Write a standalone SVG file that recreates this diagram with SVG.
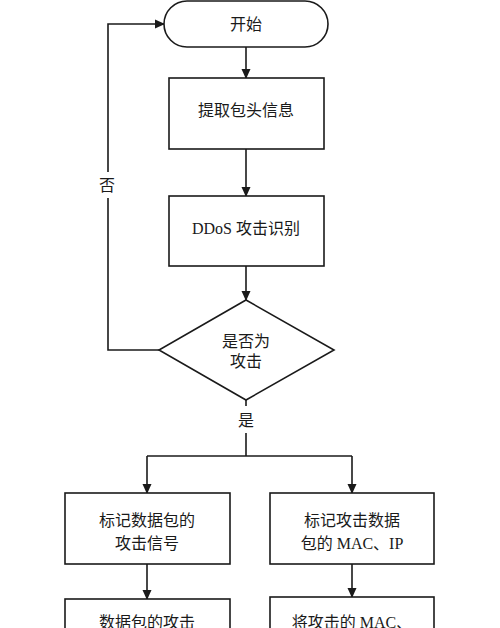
<svg xmlns="http://www.w3.org/2000/svg" width="500" height="628" viewBox="0 0 500 628">
<defs>
<marker id="ah" markerWidth="10" markerHeight="10" refX="9" refY="5" orient="auto" markerUnits="userSpaceOnUse">
<path d="M0,0.5 L10,5 L0,9.5 z" fill="#1a1a1a"/>
</marker>
<style>
.n{fill:#fff;stroke:#1a1a1a;stroke-width:1.6}
.c{fill:none;stroke:#1a1a1a;stroke-width:1.6}
.t{font-family:"Liberation Serif","Noto Sans CJK SC",serif;font-size:16px;fill:#1a1a1a;text-anchor:middle;dominant-baseline:central}
</style>
</defs>
<rect width="500" height="628" fill="#fff"/>
<g id="connectors">
<line class="c" x1="246" y1="47" x2="246" y2="78" marker-end="url(#ah)"/>
<line class="c" x1="246" y1="149" x2="246" y2="196" marker-end="url(#ah)"/>
<line class="c" x1="246" y1="266" x2="246" y2="300" marker-end="url(#ah)"/>
<polyline class="c" points="159,350 108,350 108,198"/>
<polyline class="c" points="108,172 108,24 164,24" marker-end="url(#ah)"/>
<text class="t" x="107" y="185">否</text>
<line class="c" x1="246" y1="400" x2="246" y2="406"/>
<text class="t" x="246" y="420">是</text>
<line class="c" x1="246" y1="433" x2="246" y2="456"/>
<line class="c" x1="147" y1="456" x2="352" y2="456"/>
<line class="c" x1="147" y1="456" x2="147" y2="493" marker-end="url(#ah)"/>
<line class="c" x1="352" y1="456" x2="352" y2="493" marker-end="url(#ah)"/>
<line class="c" x1="147" y1="564" x2="147" y2="599" marker-end="url(#ah)"/>
<line class="c" x1="352" y1="564" x2="352" y2="597" marker-end="url(#ah)"/>
</g>
<g id="start">
<rect class="n" x="164" y="1" width="164" height="46" rx="23" ry="23"/>
<text class="t" x="246" y="24">开始</text>
</g>
<g id="extract">
<rect class="n" x="169" y="78" width="155" height="71"/>
<text class="t" x="246" y="110">提取包头信息</text>
</g>
<g id="ddos">
<rect class="n" x="169" y="196" width="155" height="70"/>
<text class="t" x="246" y="228">DDoS 攻击识别</text>
</g>
<g id="decision">
<polygon class="n" points="246,300 334,350 246,400 159,350"/>
<text class="t" x="246" y="341">是否为</text>
<text class="t" x="246" y="361">攻击</text>
</g>
<g id="markSignal">
<rect class="n" x="65" y="493" width="165" height="71"/>
<text class="t" x="147" y="520">标记数据包的</text>
<text class="t" x="147" y="543">攻击信号</text>
</g>
<g id="markMac">
<rect class="n" x="270" y="493" width="164" height="71"/>
<text class="t" x="352" y="520">标记攻击数据</text>
<text class="t" x="352" y="543">包的 MAC、IP</text>
</g>
<g id="packetAttack">
<rect class="n" x="65" y="599" width="165" height="60"/>
<text class="t" x="147" y="622">数据包的攻击</text>
</g>
<g id="macAttack">
<rect class="n" x="270" y="597" width="164" height="60"/>
<text class="t" x="352" y="622">将攻击的 MAC、</text>
</g>
</svg>
